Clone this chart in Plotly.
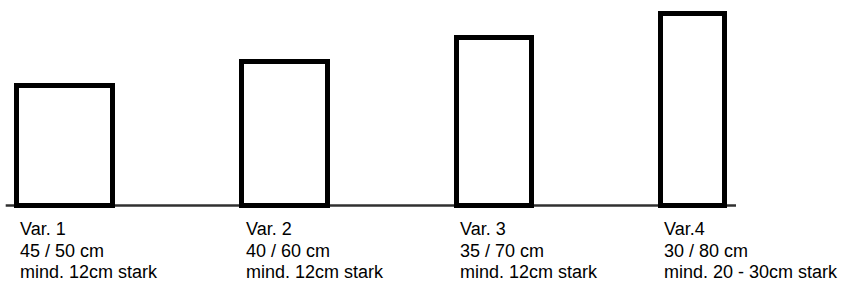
import plotly.graph_objects as go

# Data (cm)
categories = ["Var. 1", "Var. 2", "Var. 3", "Var.4"]
widths_cm = [45, 40, 35, 30]
heights_cm = [50, 60, 70, 80]
line2 = ["45 / 50 cm", "40 / 60 cm", "35 / 70 cm", "30 / 80 cm"]
line3 = ["mind. 12cm stark", "mind. 12cm stark", "mind. 12cm stark", "mind. 20 - 30cm stark"]
gap_cm = 60

# layout helpers
W, H = 844, 282
px_x = 2.1476   # px per cm horizontally
px_y = 2.4      # px per cm vertically
x0_px = 16.5
base_px = 205.5

lefts = []
pos = 0
for w in widths_cm:
    lefts.append(pos)
    pos += w + gap_cm

fig = go.Figure()
fig.add_trace(go.Bar(
    x=lefts, y=heights_cm, width=widths_cm, offset=0,
    marker=dict(color="white", line=dict(color="black", width=5)),
    hoverinfo="skip", showlegend=False,
))

xr = [-x0_px / px_x, (W - x0_px) / px_x]
yr = [-(H - base_px) / px_y, base_px / px_y]

# baseline
fig.add_shape(type="line", x0=(5.7 - x0_px) / px_x, x1=(736 - x0_px) / px_x, y0=0, y1=0,
              line=dict(color="#303030", width=2.5), layer="below")

font = dict(family="Liberation Sans, Arial, sans-serif", size=18, color="black")
for i, cat in enumerate(categories):
    for j, t in enumerate([cat, line2[i], line3[i]]):
        fig.add_annotation(x=lefts[i], y=0, xref="x", yref="y", text=t, showarrow=False,
                           xanchor="left", yanchor="top", xshift=1.5, yshift=-11.5 - j * 21.7,
                           font=font, align="left")

fig.update_layout(
    width=W, height=H, margin=dict(l=0, r=0, t=0, b=0),
    paper_bgcolor="white", plot_bgcolor="white",
    xaxis=dict(range=xr, visible=False, fixedrange=True),
    yaxis=dict(range=yr, visible=False, fixedrange=True),
    bargap=0,
)
fig.write_html("out.html", config={"displayModeBar": False},
               post_script="document.body.style.margin='0';document.body.style.padding='0';document.body.style.overflow='hidden';")
